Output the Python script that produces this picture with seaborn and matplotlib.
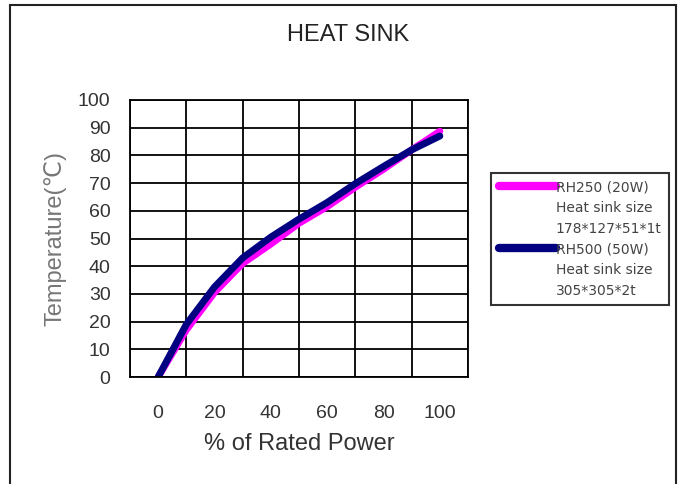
import numpy as np
import pandas as pd
import matplotlib
matplotlib.use('Agg')
import matplotlib.pyplot as plt
from matplotlib.lines import Line2D
from matplotlib.patches import Rectangle
import seaborn as sns

# data
power = [0, 10, 20, 30, 40, 50, 60, 70, 80, 90, 100]
temp_rh250 = [0, 17, 30.5, 41, 48, 55.5, 61.5, 68.5, 75, 82, 88.7]
temp_rh500 = [0, 19, 32.5, 43, 50.5, 57, 63, 69.8, 76, 82, 87]
series_names = ['RH250 (20W)', 'RH500 (50W)']
legend_lines = [
    ['RH250 (20W)', 'Heat sink size', '178*127*51*1t'],
    ['RH500 (50W)', 'Heat sink size', '305*305*2t'],
]
tick_labels = [0, 20, 40, 60, 80, 100]

colors = {'RH250 (20W)': '#ff00ff', 'RH500 (50W)': '#000080'}

df = pd.DataFrame({
    'power': power * 2,
    'temp': temp_rh250 + temp_rh500,
    'series': [series_names[0]] * len(power) + [series_names[1]] * len(power),
})

sns.set_style('white')
plt.rcParams['font.family'] = ['Liberation Sans', 'DejaVu Sans']

fig = plt.figure(figsize=(6.85, 4.84), dpi=100)
ax = fig.add_axes([130 / 685, 1 - 377 / 484, 338 / 685, 277 / 484])

sns.lineplot(data=df, x='power', y='temp', hue='series', palette=colors,
             linewidth=5, legend=False, ax=ax, solid_capstyle='round')

ax.set_xlim(-10, 110)
ax.set_ylim(0, 100)
ax.set_xticks(tick_labels)
ax.set_xticks(np.arange(-10, 111, 20), minor=True)
ax.set_yticks(np.arange(0, 101, 10))
ax.grid(False)
ax.xaxis.grid(True, which='minor', color='black', linewidth=1.3)
ax.yaxis.grid(True, which='major', color='black', linewidth=1.3)
ax.set_axisbelow(True)
for sp in ax.spines.values():
    sp.set_color('black')
    sp.set_linewidth(1.3)
ax.tick_params(axis='both', which='both', length=0, labelsize=14, colors='#333333')
ax.tick_params(axis='x', pad=20)
ax.tick_params(axis='y', pad=14)

ax.set_xlabel('% of Rated Power', fontsize=17, color='#333333', labelpad=8)
ax.set_ylabel('Temperature(℃)', fontsize=17, color='#777777', labelpad=8)

fig.text(348 / 685, 1 - 35 / 484, 'HEAT SINK', fontsize=17, color='#222222',
         ha='center', va='center')

# legend: handle only on the first line of each entry
handles, labels = [], []
for name, lines in zip(series_names, legend_lines):
    handles.append(Line2D([], [], color=colors[name], linewidth=6))
    labels.append(lines[0])
    for extra in lines[1:]:
        handles.append(Line2D([], [], color='none'))
        labels.append(extra)

leg = ax.legend(handles, labels, loc='center left',
                bbox_to_anchor=(491 / 685, 1 - 239 / 484),
                bbox_transform=fig.transFigure, borderaxespad=0,
                frameon=True, fancybox=False, handlelength=4.1,
                handletextpad=0.0, labelspacing=0.48, borderpad=0.55,
                prop={'family': 'DejaVu Sans', 'size': 10})
leg.get_frame().set_edgecolor('black')
leg.get_frame().set_linewidth(1.5)
for t in leg.get_texts():
    t.set_color('#444444')

# outer frame
fig.add_artist(Rectangle((10 / 685, -0.05), 666 / 685, 1.05 - 5 / 484,
                         transform=fig.transFigure, fill=False,
                         edgecolor='#222222', linewidth=1.5))

fig.savefig('out.png', dpi=100)
